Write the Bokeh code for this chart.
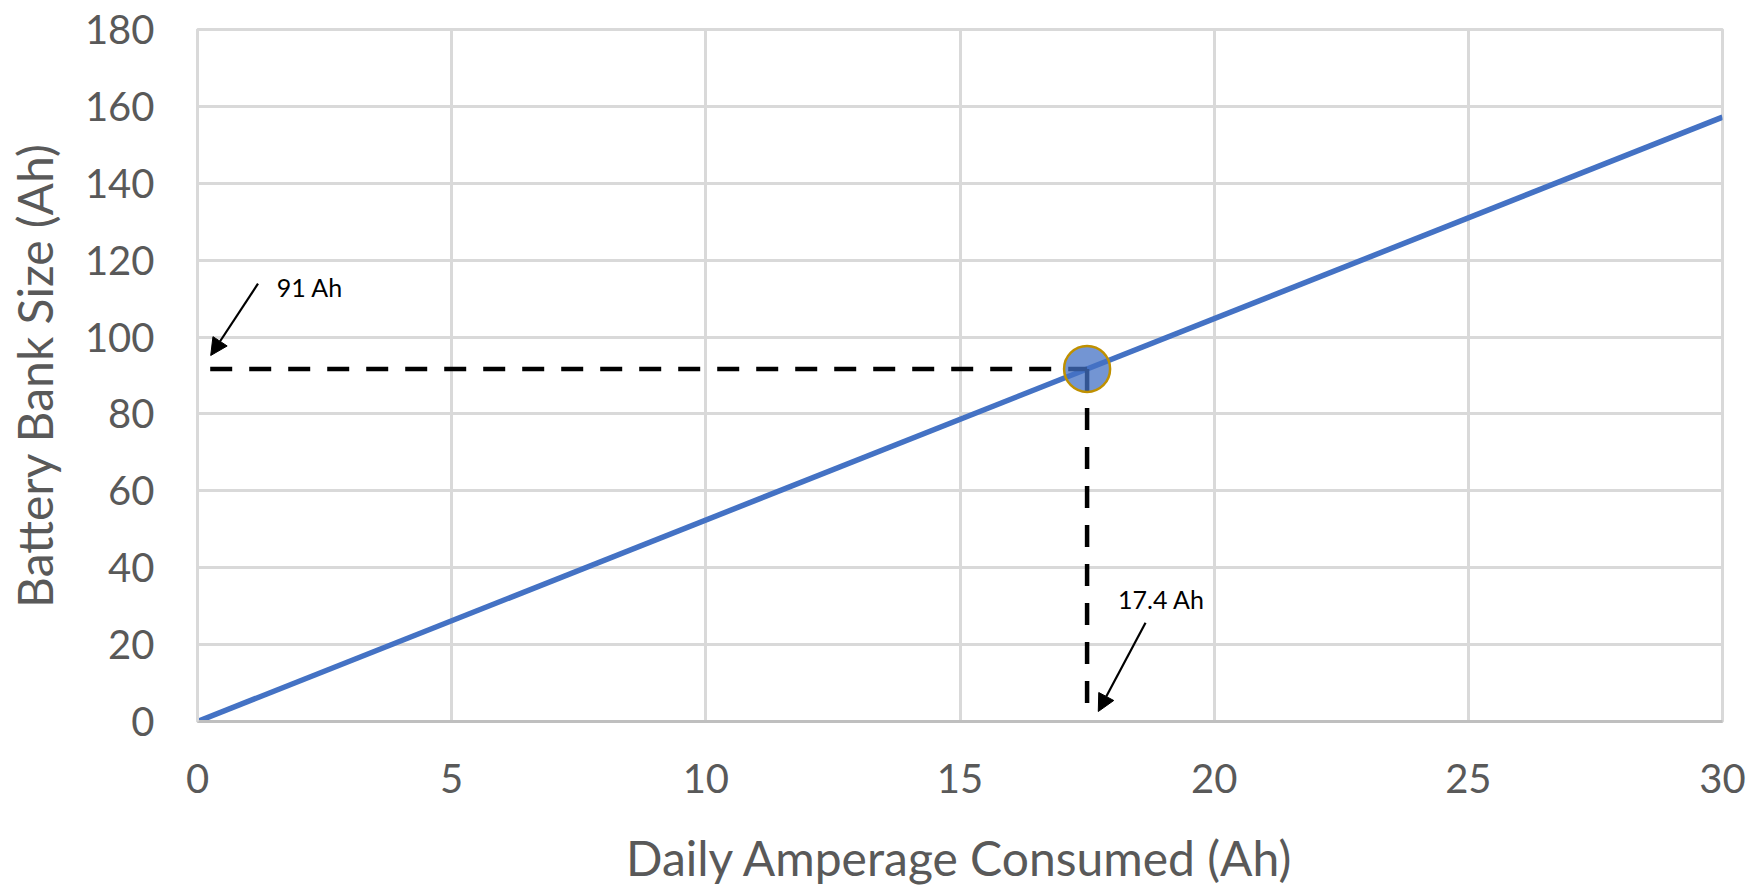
from bokeh.plotting import figure
from bokeh.models import Range1d, FixedTicker, Arrow, NormalHead, Label
from bokeh.embed import file_html
from bokeh.resources import INLINE

# Data
line_x = [0, 30]
line_y = [0, 157.2]
point_x = [17.5]
point_y = [91.7]
hdash_x = [0.25, 17.5]
hdash_y = [91.7, 91.7]
vdash_x = [17.5, 17.5]
vdash_y = [91.7, 0.3]
x_ticks = [0, 5, 10, 15, 20, 25, 30]
y_ticks = [0, 20, 40, 60, 80, 100, 120, 140, 160, 180]
ann_texts = ["91 Ah", "17.4 Ah"]
ann_text_x = [1.56, 18.11]
ann_text_y = [113.1, 31.9]
arrow_start_x = [1.19, 18.65]
arrow_start_y = [113.9, 25.7]
arrow_end_x = [0.26, 17.72]
arrow_end_y = [95.2, 2.6]

FONT = "Lato"
GRAY = "#595959"

p = figure(width=1757, height=888, output_backend="svg", toolbar_location=None,
           x_range=Range1d(0, 30), y_range=Range1d(0, 180),
           min_border_left=197, min_border_right=35, min_border_top=29, min_border_bottom=165)

p.xaxis.ticker = FixedTicker(ticks=x_ticks)
p.yaxis.ticker = FixedTicker(ticks=y_ticks)
for ax in (p.xaxis, p.yaxis):
    ax.major_tick_line_color = None
    ax.minor_tick_line_color = None
    ax.major_label_text_font = FONT
    ax.major_label_text_font_size = "40px"
    ax.major_label_text_color = GRAY
    ax.axis_label_text_font = FONT
    ax.axis_label_text_font_size = "48px"
    ax.axis_label_text_font_style = "normal"
    ax.axis_label_text_color = GRAY
p.xaxis.axis_line_color = "#BFBFBF"
p.xaxis.axis_line_width = 3
p.yaxis.axis_line_color = "#D9D9D9"
p.yaxis.axis_line_width = 3
p.xaxis.major_label_standoff = 36
p.yaxis.major_label_standoff = 37
p.xaxis.axis_label = "Daily Amperage Consumed (Ah)"
p.yaxis.axis_label = "Battery Bank Size (Ah)"
p.xaxis.axis_label_standoff = 33
p.yaxis.axis_label_standoff = 19

p.grid.grid_line_color = "#D9D9D9"
p.grid.grid_line_width = 3
p.outline_line_color = "#D9D9D9"
p.outline_line_width = 3

p.line(line_x, line_y, line_color="#4472C4", line_width=5.5)
p.line(hdash_x, hdash_y, line_color="black", line_width=4.5, line_dash="22 17")
p.line(vdash_x, vdash_y, line_color="black", line_width=4.5, line_dash="22 17")
p.scatter(point_x, point_y, size=46, fill_color="#4472C4", fill_alpha=0.75,
          line_color="#BF9000", line_width=2.5)

for i in range(len(ann_texts)):
    p.add_layout(Arrow(end=NormalHead(size=17, fill_color="black", line_color="black"),
                       x_start=arrow_start_x[i], y_start=arrow_start_y[i],
                       x_end=arrow_end_x[i], y_end=arrow_end_y[i],
                       line_color="black", line_width=2.2))
    p.add_layout(Label(x=ann_text_x[i], y=ann_text_y[i], text=ann_texts[i],
                       text_font=FONT, text_font_size="25px", text_color="black",
                       text_baseline="middle", text_align="left"))

open("out.html", "w").write(file_html(p, INLINE))
